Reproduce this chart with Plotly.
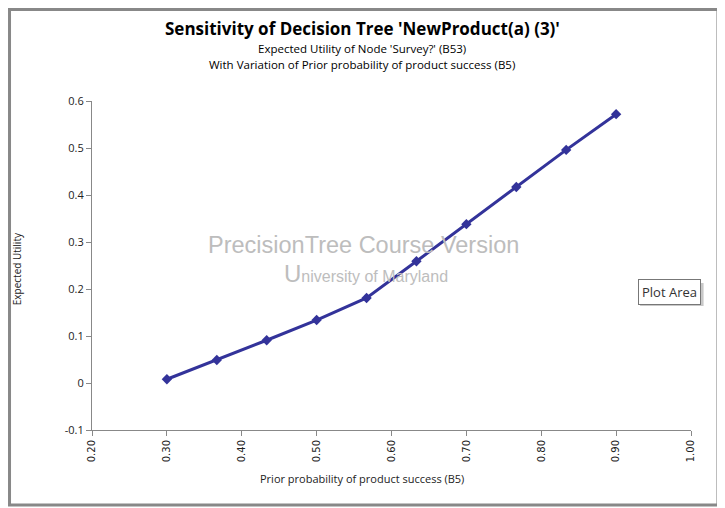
import plotly.graph_objects as go

prior_prob = [0.3, 0.3667, 0.4333, 0.5, 0.5667, 0.6333, 0.7, 0.7667, 0.8333, 0.9]
expected_utility = [0.008, 0.049, 0.091, 0.134, 0.181, 0.259, 0.338, 0.417, 0.496, 0.572]
x_ticks = [0.2, 0.3, 0.4, 0.5, 0.6, 0.7, 0.8, 0.9, 1.0]
y_ticks = [-0.1, 0, 0.1, 0.2, 0.3, 0.4, 0.5, 0.6]

font = "Open Sans, sans-serif"

# the page puts the figure 8px in from the top-left corner, so size it to fill the rest
fig = go.Figure()
fig.add_trace(go.Scatter(
    x=prior_prob, y=expected_utility, mode="lines+markers",
    line=dict(color="#33339a", width=3),
    marker=dict(symbol="diamond", size=8, color="#33339a"),
    showlegend=False,
))

fig.update_layout(
    width=717, height=500,
    margin=dict(l=84, r=34, t=93, b=78),
    paper_bgcolor="white", plot_bgcolor="white",
    font=dict(family=font, color="#222"),
    xaxis=dict(
        range=[0.2, 1.0], tickvals=x_ticks, ticktext=[f"{v:.2f}" for v in x_ticks],
        tickangle=-90, ticks="outside", ticklen=5, tickcolor="#888",
        showline=True, linecolor="#888", showgrid=False, zeroline=False, automargin=False,
        tickfont=dict(family="DejaVu Sans", size=10, color="#222"),
    ),
    yaxis=dict(
        range=[-0.1, 0.6], tickvals=y_ticks, ticktext=[f"{v:g}" for v in y_ticks],
        ticks="outside", ticklen=5, tickcolor="#888",
        showline=True, linecolor="#888", showgrid=False, zeroline=False, automargin=False,
        tickfont=dict(size=11),
    ),
    shapes=[
        dict(type="rect", xref="paper", yref="paper", x0=-0.1377, x1=1.045, y0=-0.228, y1=1.278,
             line=dict(color="#888", width=3)),
        # soft shadow under the "Plot Area" tooltip
        dict(type="rect", xref="paper", yref="paper", x0=0.915, x1=1.021, y0=0.377, y1=0.447,
             line=dict(width=0), fillcolor="#c8c8c8"),
    ],
)


def label(text, x, y, size, color="black", family=font, **kw):
    fig.add_annotation(text=text, xref="paper", yref="paper", x=x, y=y, showarrow=False,
                       xanchor=kw.pop("xanchor", "center"), yanchor="middle",
                       font=dict(size=size, family=family, color=color), **kw)


label("<b>Sensitivity of Decision Tree 'NewProduct(a) (3)'</b>", 0.451, 1.219, 17)
label("Expected Utility of Node 'Survey?' (B53)", 0.451, 1.16, 11.5)
label("With Variation of Prior probability of product success (B5)", 0.451, 1.111, 11.5)

label("Prior probability of product success (B5)", 0.451, -0.146, 11, "#222")
label("Expected Utility", -0.125, 0.489, 10, "#222", textangle=-90)

label("PrecisionTree Course Version", 0.454, 0.562, 23.5, "#bdbdbd", "Liberation Sans")
label("<span style='font-size:24px'>U</span>niversity of Maryland", 0.457, 0.477, 16,
      "#bdbdbd", "Liberation Sans")

label("Plot Area", 1.017, 0.419, 13, "#333", xanchor="right", bgcolor="white",
      bordercolor="#777", borderwidth=1, borderpad=3)

fig.write_html("out.html")
